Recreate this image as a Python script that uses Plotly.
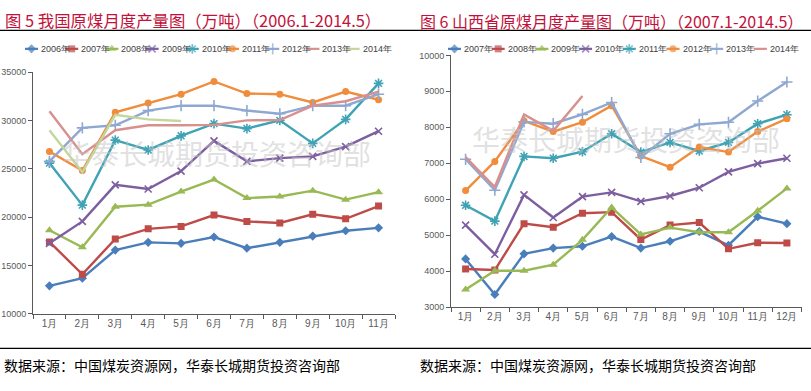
import plotly.graph_objects as go

# ---------------- data ----------------
months_left = ["1月", "2月", "3月", "4月", "5月", "6月", "7月", "8月", "9月", "10月", "11月"]
months_right = ["1月", "2月", "3月", "4月", "5月", "6月", "7月", "8月", "9月", "10月", "11月", "12月"]

china_2006 = [12900, 13700, 16600, 17400, 17300, 17950, 16800, 17400, 18050, 18600, 18900]
china_2007 = [17450, 14100, 17750, 18800, 19050, 20230, 19560, 19400, 20300, 19840, 21150]
china_2008 = [18650, 16900, 21080, 21300, 22650, 23900, 21980, 22150, 22750, 21820, 22590]
china_2009 = [17300, 19570, 23350, 22920, 24770, 27900, 25780, 26120, 26290, 27300, 28900]
china_2010 = [25600, 21250, 27980, 26960, 28420, 29680, 29170, 30020, 27640, 30120, 33850]
china_2011 = [26800, 24830, 30860, 31810, 32730, 34050, 32800, 32730, 31880, 33000, 32150]
china_2012 = [25780, 29240, 29510, 31030, 31540, 31540, 31030, 30700, 31540, 31540, 32730]
china_2013 = [30970, 26520, 29000, 29510, 29510, 29550, 30020, 30050, 31540, 32000, 33000]
china_2014 = [29000, 24660, 30590, 30120, 29950]

shanxi_2007 = [4340, 3350, 4480, 4640, 4690, 4960, 4640, 4830, 5100, 4720, 5510, 5320]
shanxi_2008 = [4060, 4030, 5320, 5220, 5610, 5640, 4880, 5280, 5350, 4620, 4790, 4780]
shanxi_2009 = [3490, 4010, 4010, 4180, 4870, 5770, 5020, 5210, 5080, 5080, 5680, 6300]
shanxi_2010 = [5280, 4470, 6120, 5490, 6070, 6190, 5940, 6090, 6320, 6760, 6990, 7140]
shanxi_2011 = [5830, 5390, 7190, 7140, 7320, 7820, 7310, 7580, 7340, 7580, 8100, 8350]
shanxi_2012 = [6240, 7050, 8180, 7880, 8140, 8600, 7200, 6890, 7450, 7310, 7880, 8240]
shanxi_2013 = [7110, 6250, 8150, 8100, 8360, 8690, 7160, 7820, 8080, 8140, 8730, 9260]
shanxi_2014 = [7170, 6340, 8360, 7900, 8870]

title_left = "图 5 我国原煤月度产量图（万吨）（2006.1-2014.5）"
title_right = "图 6 山西省原煤月度产量图（万吨）（2007.1-2014.5）"
source_text = "数据来源：中国煤炭资源网，华泰长城期货投资咨询部"
watermark = "华泰长城期货投资咨询部"

# ---------------- styles ----------------
BLUE, RED, GREEN, PURPLE = "#4A7EBB", "#BE4B48", "#98B954", "#7D5FA0"
TEAL, ORANGE, LAV, PINK, OLIVE = "#3FA3B5", "#F08C3C", "#8FA8D2", "#D8908E", "#C3D69B"

# (name, data, color, symbol, size)
left_series = [
    ("2006年", china_2006, BLUE, "diamond", 7),
    ("2007年", china_2007, RED, "square", 7),
    ("2008年", china_2008, GREEN, "triangle-up", 8),
    ("2009年", china_2009, PURPLE, "x-thin", 7),
    ("2010年", china_2010, TEAL, "asterisk", 8),
    ("2011年", china_2011, ORANGE, "circle", 7),
    ("2012年", china_2012, LAV, "cross-thin", 8),
    ("2013年", china_2013, PINK, None, 0),
    ("2014年", china_2014, OLIVE, None, 0),
]
right_series = [
    ("2007年", shanxi_2007, BLUE, "diamond", 7),
    ("2008年", shanxi_2008, RED, "square", 7),
    ("2009年", shanxi_2009, GREEN, "triangle-up", 8),
    ("2010年", shanxi_2010, PURPLE, "x-thin", 7),
    ("2011年", shanxi_2011, TEAL, "asterisk", 8),
    ("2012年", shanxi_2012, ORANGE, "circle", 7),
    ("2013年", shanxi_2013, LAV, "cross-thin", 8),
    ("2014年", shanxi_2014, PINK, None, 0),
]

W, H = 811, 391
CN = "Noto Sans CJK SC"
NARROW = "Liberation Sans Narrow, Arial Narrow, Liberation Sans, sans-serif"


def marker_for(color, symbol, size):
    if symbol is None:
        return dict(size=0, color=color)
    if symbol in ("x-thin", "asterisk", "cross-thin"):
        return dict(symbol=symbol, size=size, color=color, line=dict(color=color, width=1.6))
    return dict(symbol=symbol, size=size, color=color, line=dict(width=0))


fig = go.Figure()

for name, data, color, sym, size in left_series:
    fig.add_trace(go.Scatter(
        x=months_left[:len(data)], y=data, name=name, xaxis="x", yaxis="y",
        mode="lines+markers" if sym else "lines",
        line=dict(color=color, width=2.4), marker=marker_for(color, sym, size),
        showlegend=False, hoverinfo="skip"))

for name, data, color, sym, size in right_series:
    fig.add_trace(go.Scatter(
        x=months_right[:len(data)], y=data, name=name, xaxis="x2", yaxis="y2",
        mode="lines+markers" if sym else "lines",
        line=dict(color=color, width=2.4), marker=marker_for(color, sym, size),
        showlegend=False, hoverinfo="skip"))

# ---------------- custom legends (pixel overlay axis) ----------------
annotations = []


def add_legend(series, x_start, step, y):
    for i, (name, data, color, sym, size) in enumerate(series):
        x0 = x_start + i * step
        sizes = [0, size if sym else 0, 0]
        m = marker_for(color, sym, size)
        m["size"] = sizes
        fig.add_trace(go.Scatter(
            x=[x0, x0 + 6.5, x0 + 13], y=[y, y, y], xaxis="x3", yaxis="y3",
            mode="lines+markers", line=dict(color=color, width=2.2), marker=m,
            showlegend=False, hoverinfo="skip"))
        annotations.append(dict(
            x=x0 + 14, y=y, xref="x3", yref="y3", text=name, showarrow=False,
            xanchor="left", yanchor="middle",
            font=dict(size=9, color="#404040", family=NARROW)))


add_legend(left_series, 25, 40.2, 45)
add_legend(right_series, 448, 43.7, 45)

# titles
annotations.append(dict(x=3, y=15.5, xref="x3", yref="y3", text=title_left, showarrow=False,
                        xanchor="left", yanchor="middle",
                        font=dict(size=16.4, color="#C3113A", family=CN)))
annotations.append(dict(x=418, y=16, xref="x3", yref="y3", text=title_right, showarrow=False,
                        xanchor="left", yanchor="middle",
                        font=dict(size=16.0, color="#C3113A", family=CN)))
# footers
annotations.append(dict(x=2, y=369, xref="x3", yref="y3", text=source_text, showarrow=False,
                        xanchor="left", yanchor="middle", font=dict(size=14, color="#000", family=CN)))
annotations.append(dict(x=418, y=369, xref="x3", yref="y3", text=source_text, showarrow=False,
                        xanchor="left", yanchor="middle", font=dict(size=14, color="#000", family=CN)))
# watermarks
annotations.append(dict(x=217, y=152, xref="x3", yref="y3", text=watermark, showarrow=False,
                        xanchor="center", yanchor="middle",
                        font=dict(size=28, color="rgba(195,195,195,0.5)", family=CN)))
annotations.append(dict(x=626, y=138, xref="x3", yref="y3", text=watermark, showarrow=False,
                        xanchor="center", yanchor="middle",
                        font=dict(size=28, color="rgba(195,195,195,0.5)", family=CN)))

shapes = [
    dict(type="line", xref="x3", yref="y3", x0=0, x1=W, y0=26, y1=26, line=dict(color="#000", width=1.3)),
    dict(type="line", xref="x3", yref="y3", x0=0, x1=W, y0=352.3, y1=352.3, line=dict(color="#000", width=1.3)),
]

tickfont_y = dict(size=9, color="#595959", family=NARROW)
tickfont_x = dict(size=10, color="#595959", family=NARROW)
axis_common = dict(showline=True, linecolor="#595959", linewidth=1, ticks="outside", ticklen=4,
                   tickcolor="#595959", showgrid=False, zeroline=False, fixedrange=True)

fig.update_layout(
    width=W, height=H, margin=dict(l=0, r=0, t=0, b=0),
    paper_bgcolor="white", plot_bgcolor="rgba(0,0,0,0)", showlegend=False,
    xaxis=dict(domain=[33 / W, 395 / W], type="category", categoryorder="array",
               categoryarray=months_left, range=[-0.5, len(months_left) - 0.5],
               tickson="boundaries", tickangle=0, tickfont=tickfont_x, anchor="y", **axis_common),
    yaxis=dict(domain=[(H - 317) / H, (H - 69) / H], range=[10000, 35000], dtick=5000,
               tickformat="d", tickfont=tickfont_y, anchor="x", **axis_common),
    xaxis2=dict(domain=[451 / W, 801.5 / W], type="category", categoryorder="array",
                categoryarray=months_right, range=[-0.5, len(months_right) - 0.5],
                tickson="boundaries", tickangle=0, tickfont=tickfont_x, anchor="y2", **axis_common),
    yaxis2=dict(domain=[(H - 310) / H, (H - 51.7) / H], range=[3000, 10000], dtick=1000,
                tickformat="d", tickfont=tickfont_y, anchor="x2", **axis_common),
    xaxis3=dict(domain=[0, 1], range=[0, W], visible=False, fixedrange=True, anchor="y3"),
    yaxis3=dict(domain=[0, 1], range=[H, 0], visible=False, fixedrange=True, anchor="x3"),
    annotations=annotations, shapes=shapes,
)

fig.write_html("out.html", config={"displayModeBar": False, "staticPlot": True},
               post_script="document.body.style.margin='0';")
